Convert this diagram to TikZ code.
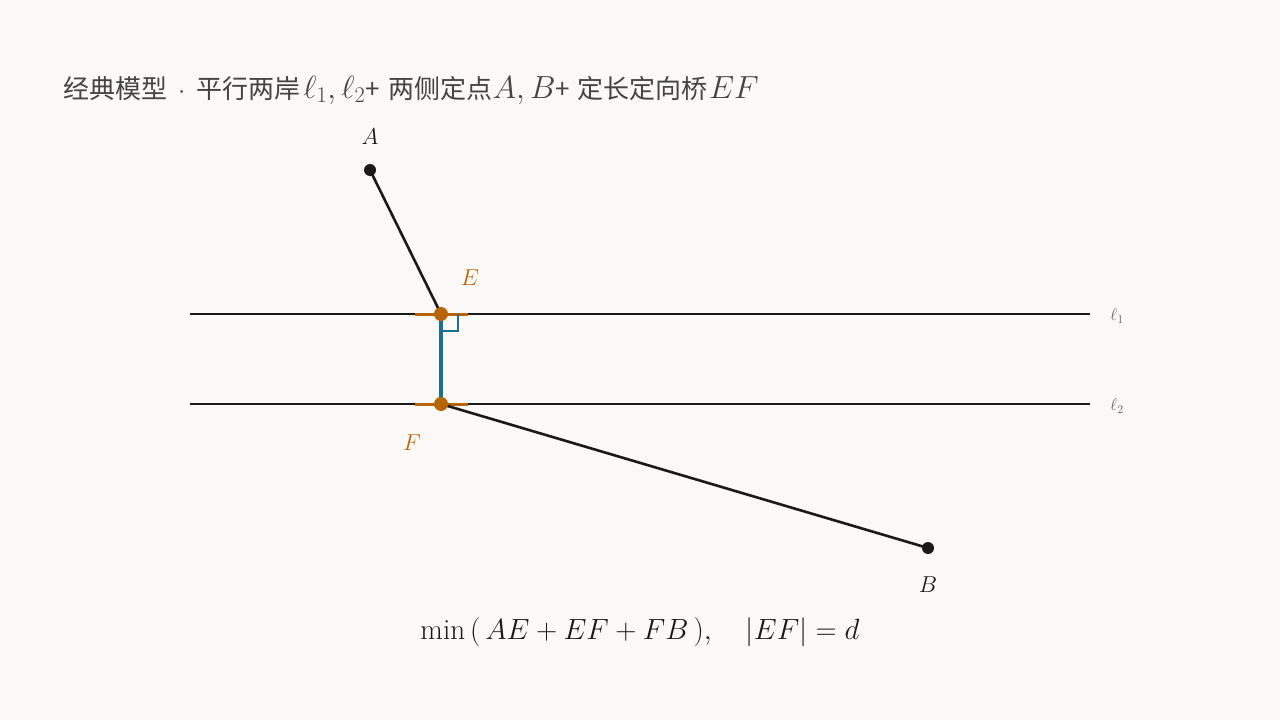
\documentclass[tikz,border=0pt]{standalone}
\usepackage{fix-cm}
\usepackage{fontspec}
\newfontfamily\cjk{Noto Sans CJK SC}
\definecolor{bg}{HTML}{FAF9F7}
\definecolor{ink}{HTML}{1A1A1A}
\definecolor{orng}{HTML}{B8650A}
\definecolor{blu}{HTML}{1B6E8C}
\definecolor{gry}{HTML}{666666}
\definecolor{ttl}{HTML}{444444}
\newcommand{\tm}[1]{{\fontsize{32}{34}\selectfont$#1$}}
\tikzset{
  shore/.style={draw=ink, line width=2.5pt},
  seg/.style={draw=ink, line width=2.6pt},
  bridge/.style={draw=blu, line width=3.4pt},
  tickmark/.style={draw=orng, line width=3pt},
  rightmark/.style={draw=blu, line width=1.6pt},
  blackdot/.style={circle, fill=ink, inner sep=0pt, minimum size=12pt},
  orangedot/.style={circle, fill=orng, inner sep=0pt, minimum size=14pt},
  ptlabel/.style={text=ink, font=\fontsize{23}{27}\selectfont, inner sep=0pt},
  oplabel/.style={text=orng, font=\fontsize{23}{27}\selectfont, inner sep=0pt},
  linelabel/.style={text=gry, font=\fontsize{17}{20}\selectfont, inner sep=0pt},
}
\begin{document}
\begin{tikzpicture}[x=1pt,y=-1pt]
\fill[bg] (0,0) rectangle (1280,720);
\useasboundingbox (0,0) rectangle (1280,720);

% title
\node[anchor=west, text=ttl, inner sep=0pt, font=\cjk\fontsize{26}{32}\selectfont] (title) at (63,90)
  {经典模型\hspace{11pt}$\cdot$\hspace{11pt}平行两岸\hspace{3pt}\tm{\ell_1,\ell_2}+\hspace{9pt}两侧定点\tm{A,B}+\hspace{7pt}定长定向桥\hspace{2pt}\tm{EF}};

% shores
\coordinate (L1a) at (190,314);
\coordinate (L1b) at (1090,314);
\coordinate (L2a) at (190,404);
\coordinate (L2b) at (1090,404);
\draw[shore] (L1a) -- (L1b);
\draw[shore] (L2a) -- (L2b);
\node[linelabel] (l1) at (1117,316) {$\ell_1$};
\node[linelabel] (l2) at (1117,406) {$\ell_2$};

% points
\coordinate (A) at (370,170);
\coordinate (E) at (441,314);
\coordinate (F) at (441,404);
\coordinate (B) at (928,548);

% orange ticks on shores
\coordinate (E1) at (415,314);
\coordinate (E2) at (468,314);
\coordinate (F1) at (415,404);
\coordinate (F2) at (468,404);
\draw[tickmark] (E1) -- (E2);
\draw[tickmark] (F1) -- (F2);

% path
\draw[seg] (A) -- (E);
\draw[seg] (F) -- (B);
\draw[bridge] (E) -- (F);

% right angle mark
\coordinate (R1) at (441,331);
\coordinate (R2) at (458,331);
\coordinate (R3) at (458,314);
\draw[rightmark] (R1) -- (R2) -- (R3);

% dots
\node[blackdot] (Adot) at (A) {};
\node[blackdot] (Bdot) at (B) {};
\node[orangedot] (Edot) at (E) {};
\node[orangedot] (Fdot) at (F) {};

% labels
\node[ptlabel] (Alab) at (370,137) {$A$};
\node[ptlabel] (Blab) at (928,585) {$B$};
\node[oplabel] (Elab) at (470,278) {$E$};
\node[oplabel] (Flab) at (412,443) {$F$};

% formula
\node[text=ink, inner sep=0pt, font=\fontsize{29.2}{34}\selectfont] (formula) at (640,632)
  {$\min\,\bigl(\,AE+EF+FB\,\bigr),\quad |EF|=d$};
\end{tikzpicture}
\end{document}
